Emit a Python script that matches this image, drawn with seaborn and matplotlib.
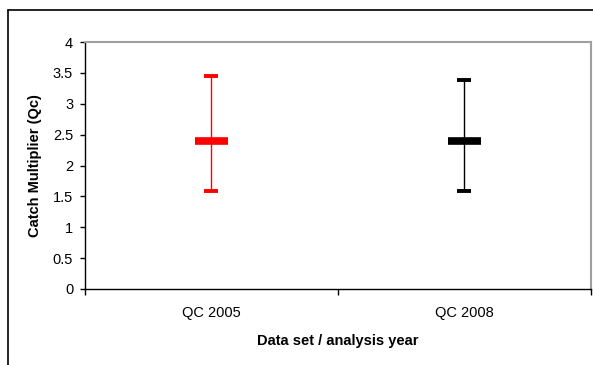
import matplotlib
matplotlib.use("Agg")
import matplotlib.pyplot as plt
import seaborn as sns
import pandas as pd
from matplotlib.lines import Line2D

# Data
categories = ["QC 2005", "QC 2008"]
mid_values = [2.4, 2.4]
low_values = [1.58, 1.58]
high_values = [3.45, 3.38]
colors = ["#FF0000", "#000000"]
y_ticks = [0, 0.5, 1, 1.5, 2, 2.5, 3, 3.5, 4]
y_tick_labels = ["0", "0.5", "1", "1.5", "2", "2.5", "3", "3.5", "4"]

df = pd.DataFrame({"cat": categories, "mid": mid_values,
                   "low": low_values, "high": high_values})

sns.set_theme(style="white")
plt.rcParams["font.family"] = ["Liberation Sans", "DejaVu Sans"]
plt.rcParams["text.color"] = "black"
plt.rcParams["axes.labelcolor"] = "black"
plt.rcParams["xtick.color"] = "black"
plt.rcParams["ytick.color"] = "black"

fig = plt.figure(figsize=(5.93, 3.65), dpi=100)
ax = fig.add_axes([85 / 593, 1 - 289 / 365, (590.7 - 85) / 593, (289 - 42) / 365])

# whiskers
for i, row in df.iterrows():
    ax.errorbar([i], [row["mid"]],
                yerr=[[row["mid"] - row["low"]], [row["high"] - row["mid"]]],
                fmt="none", ecolor=colors[i], elinewidth=1.0,
                capsize=5.2, capthick=2.8, zorder=2)

# centre bars
sns.scatterplot(data=df, x=[0, 1], y="mid", hue="cat", palette=colors,
                marker="_", s=580, linewidth=5.5, legend=False, ax=ax, zorder=3)

fs = 10.5
ax.set_xlim(-0.5, 1.5)
ax.set_ylim(0, 4)
ax.set_yticks(y_ticks)
ax.set_yticklabels(y_tick_labels, fontsize=fs)
ax.set_xticks([0, 1])
ax.set_xticklabels(categories, fontsize=fs)
ax.set_xticks([-0.5, 0.5, 1.5], minor=True)
ax.tick_params(axis="x", which="major", length=0, pad=12, colors="black")
ax.tick_params(axis="x", which="minor", length=4, width=1, direction="out",
               bottom=True, color="black")
ax.tick_params(axis="y", which="major", length=3.5, width=1, direction="out",
               left=True, pad=5, colors="black")

for s in ["left", "bottom"]:
    ax.spines[s].set_color("black")
    ax.spines[s].set_linewidth(1.0)
for s in ["top", "right"]:
    ax.spines[s].set_color("#A0A0A0")
    ax.spines[s].set_linewidth(1.5)
    ax.spines[s].set_visible(True)

ax.set_xlabel("Data set / analysis year", fontsize=fs, fontweight="bold",
              labelpad=10, color="black")
ax.set_ylabel("Catch Multiplier (Qc)", fontsize=fs, fontweight="bold",
              labelpad=8, color="black")
ax.grid(False)

# outer chart frame (top and left edges)
W, H = 593, 365
fig.add_artist(Line2D([8 / W, 1.0], [1 - 10 / H, 1 - 10 / H], color="black",
                      linewidth=1.2, transform=fig.transFigure))
fig.add_artist(Line2D([8 / W, 8 / W], [0, 1 - 10 / H], color="black",
                      linewidth=1.2, transform=fig.transFigure))

fig.savefig("out.png", dpi=100)
